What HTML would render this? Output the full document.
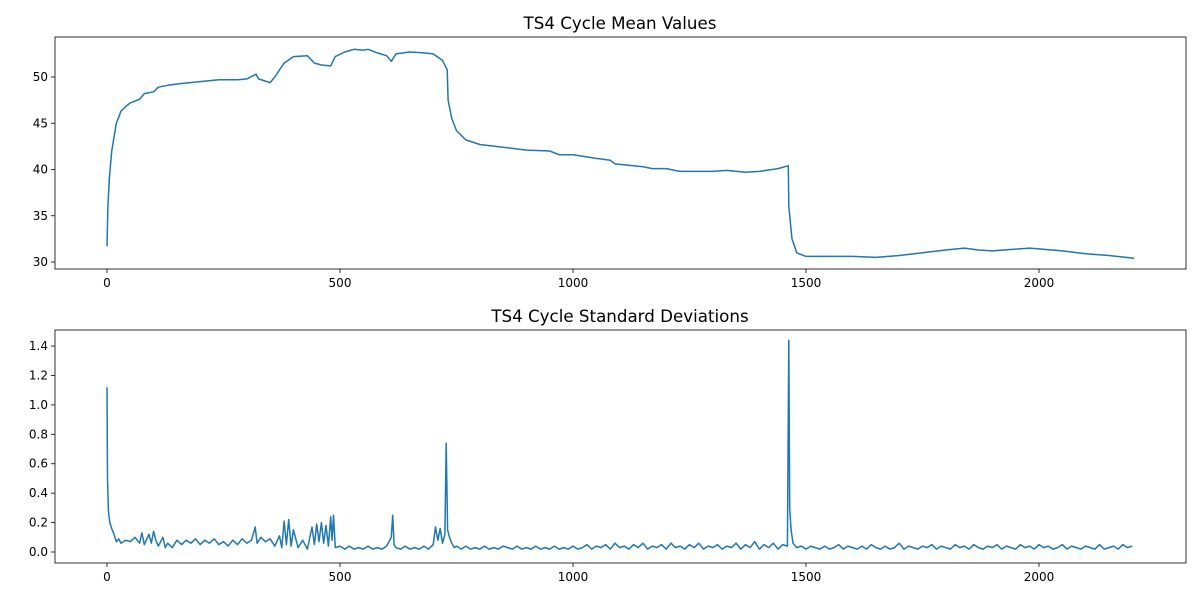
<!DOCTYPE html>
<html><head><meta charset="utf-8"><style>
body{margin:0;background:#fff}
svg{display:block;font-family:"DejaVu Sans","Liberation Sans",sans-serif}
</style></head><body>
<svg id="chart" width="1200" height="600" xmlns="http://www.w3.org/2000/svg"></svg>
<script>
const xTicks=[0,500,1000,1500,2000];
const meanTicks=[30,35,40,45,50];
const stdTicks=[0.0,0.2,0.4,0.6,0.8,1.0,1.2,1.4];
const meanX=[0,2,5,10,20,30,40,50,70,80,100,110,130,160,200,240,280,300,320,325,350,360,380,400,430,445,460,480,490,510,530,550,560,580,600,610,620,650,680,700,720,728,730,732,740,750,770,800,850,900,950,970,1000,1050,1080,1090,1150,1170,1200,1230,1300,1330,1370,1400,1440,1462,1463,1470,1480,1500,1550,1600,1650,1700,1750,1800,1840,1870,1900,1950,1980,2050,2100,2150,2204];
const meanY=[31.7,36,39,42,45,46.3,46.8,47.2,47.6,48.2,48.4,48.9,49.1,49.3,49.5,49.7,49.7,49.8,50.3,49.8,49.4,50,51.5,52.2,52.3,51.5,51.3,51.2,52.2,52.7,53,52.9,53,52.6,52.3,51.7,52.5,52.7,52.6,52.5,51.8,51,50.8,47.5,45.5,44.2,43.2,42.7,42.4,42.1,42,41.6,41.6,41.2,41.0,40.6,40.3,40.1,40.1,39.8,39.8,39.9,39.7,39.8,40.1,40.4,36,32.5,31,30.6,30.6,30.6,30.5,30.7,31,31.3,31.5,31.3,31.2,31.4,31.5,31.2,30.9,30.7,30.4];
const stdX=[0,1,3,6,10,15,20,25,30,40,50,60,70,75,80,90,95,100,105,110,120,125,130,140,150,160,170,180,190,200,210,220,230,240,250,260,270,280,290,300,310,318,322,330,340,350,360,370,375,380,385,390,395,400,410,420,430,440,445,450,455,460,465,470,475,480,483,486,490,500,510,520,530,540,550,560,570,580,590,600,610,613,616,620,630,640,650,660,670,680,690,700,705,710,715,720,725,728,731,735,740,745,750,
760,770,780,790,800,810,820,830,840,850,860,870,880,890,900,910,920,930,940,950,960,970,980,990,1000,1010,1020,1030,1040,1050,1060,1070,1080,1090,1100,1110,1120,1130,1140,1150,1160,1170,1180,1190,1200,1210,1220,1230,1240,1250,1260,1270,1280,1290,1300,1310,1320,1330,1340,1350,1360,1370,1380,1390,1400,1410,1420,1430,1440,1450,1460,1463,1465,1468,1472,1480,
1490,1500,1510,1520,1530,1540,1550,1560,1570,1580,1590,1600,1610,1620,1630,1640,1650,1660,1670,1680,1690,1700,1710,1720,1730,1740,1750,1760,1770,1780,1790,1800,1810,1820,1830,1840,1850,1860,1870,1880,1890,1900,1910,1920,1930,1940,1950,1960,1970,1980,1990,2000,2010,2020,2030,2040,2050,2060,2070,2080,2090,2100,2110,2120,2130,2140,2150,2160,2170,2180,2190,2200];
const stdY=[1.12,0.5,0.28,0.2,0.16,0.12,0.07,0.09,0.06,0.08,0.07,0.1,0.06,0.13,0.05,0.12,0.06,0.14,0.08,0.04,0.1,0.03,0.06,0.03,0.08,0.05,0.08,0.06,0.09,0.05,0.08,0.06,0.09,0.05,0.07,0.04,0.08,0.05,0.09,0.06,0.08,0.17,0.06,0.1,0.07,0.09,0.04,0.11,0.03,0.21,0.05,0.22,0.04,0.15,0.03,0.08,0.02,0.17,0.05,0.19,0.07,0.2,0.06,0.18,0.04,0.24,0.08,0.25,0.03,0.04,0.02,0.04,0.02,0.03,0.02,0.04,0.02,0.03,0.02,0.04,0.1,0.25,0.05,0.03,0.02,0.04,0.02,0.03,0.02,0.04,0.02,0.05,0.17,0.08,0.16,0.06,0.12,0.74,0.15,0.1,0.06,0.03,0.04,
0.02,0.04,0.02,0.03,0.02,0.04,0.02,0.03,0.02,0.04,0.03,0.02,0.04,0.02,0.03,0.02,0.04,0.02,0.03,0.02,0.04,0.02,0.03,0.02,0.04,0.02,0.03,0.05,0.02,0.04,0.03,0.05,0.02,0.06,0.03,0.04,0.02,0.05,0.03,0.06,0.02,0.04,0.03,0.05,0.02,0.06,0.03,0.04,0.02,0.05,0.03,0.06,0.02,0.04,0.03,0.05,0.02,0.04,0.03,0.06,0.02,0.05,0.03,0.07,0.02,0.05,0.03,0.06,0.02,0.05,0.04,1.44,0.3,0.15,0.06,0.03,
0.04,0.02,0.04,0.03,0.02,0.04,0.02,0.03,0.05,0.02,0.04,0.03,0.02,0.04,0.02,0.05,0.03,0.02,0.04,0.02,0.03,0.06,0.02,0.04,0.03,0.02,0.04,0.03,0.05,0.02,0.04,0.03,0.02,0.05,0.03,0.04,0.02,0.05,0.03,0.02,0.04,0.03,0.05,0.02,0.04,0.03,0.02,0.05,0.03,0.04,0.02,0.05,0.03,0.04,0.02,0.03,0.05,0.02,0.04,0.03,0.02,0.04,0.03,0.02,0.05,0.02,0.03,0.04,0.02,0.05,0.03,0.04];

const NS="http://www.w3.org/2000/svg";
const svg=document.getElementById('chart');
function mk(tag,attrs,parent,text){const e=document.createElementNS(NS,tag);for(const k in attrs)e.setAttribute(k,attrs[k]);if(text!==undefined)e.textContent=text;(parent||svg).appendChild(e);return e;}
const xs=v=>107+v*0.466;

function panel(top,bottom,yMap,ticks,fmt,title,X,Y,name){
  const g=mk('g',{});
  
  
  const t=mk('text',{x:620,y:top-8,'text-anchor':'middle','font-size':16.7,fill:'#000'},g,title);
  
  
  xTicks.forEach(v=>{const x=xs(v);mk('line',{x1:x,x2:x,y1:bottom,y2:bottom+4,stroke:'#000','stroke-width':0.8},g);
    const l=mk('text',{x:x,y:bottom+18,'text-anchor':'middle','font-size':12},g,String(v));
    
    });
  ticks.forEach(v=>{const y=yMap(v);mk('line',{x1:51,x2:55,y1:y,y2:y,stroke:'#000','stroke-width':0.8},g);
    const l=mk('text',{x:48,y:y+4,'text-anchor':'end','font-size':12},g,fmt(v));
    
    });
  const d=X.map((v,i)=>(i?'L':'M')+xs(v).toFixed(1)+' '+yMap(Y[i]).toFixed(1)).join('');
  const p=mk('path',{d:d,fill:'none',stroke:'#1f77b4','stroke-width':1.5,'stroke-linejoin':'round'},g);
  
  
  mk('rect',{x:55,y:top,width:1131,height:bottom-top,fill:'none',stroke:'#000','stroke-width':0.8},g);
}
panel(37,269,v=>262-(v-30)*9.25,meanTicks,v=>String(v),'TS4 Cycle Mean Values',meanX,meanY,'mean');
panel(330,563,v=>552-v*147.1,stdTicks,v=>v.toFixed(1),'TS4 Cycle Standard Deviations',stdX,stdY,'std');
</script>
</body></html>
